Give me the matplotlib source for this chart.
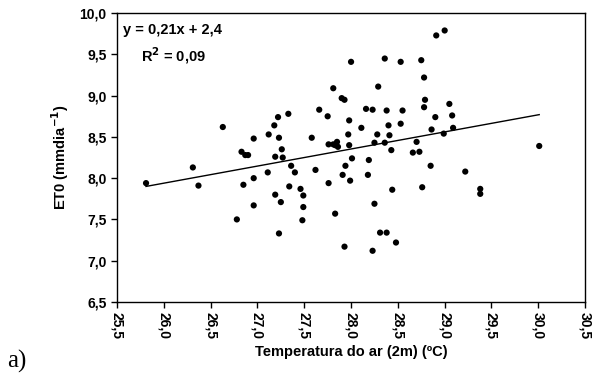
import numpy as np
import matplotlib
matplotlib.use("Agg")
import matplotlib.pyplot as plt
from matplotlib.ticker import FuncFormatter

# temperatura do ar (oC) e ET0 (mm/dia)
temp = [25.81, 26.31, 26.37, 26.63, 26.78, 26.83, 26.87, 26.90, 26.85, 26.96,
        26.96, 26.96, 27.11, 27.12, 27.18, 27.22, 27.19, 27.23, 27.26, 27.27,
        27.19, 27.25, 27.23, 27.33, 27.36, 27.40, 27.34, 27.46, 27.49, 27.49,
        27.48, 27.58, 27.62, 27.66, 27.75, 27.81, 27.76, 27.81, 27.83, 27.85,
        27.86, 27.76, 27.83, 27.90, 27.93, 27.93, 27.94, 27.91, 28.00, 27.98,
        27.97, 27.98, 28.01, 27.99, 28.11, 28.16, 28.23, 28.29, 28.36, 28.38,
        28.40, 28.28, 28.41, 28.25, 28.36, 28.43, 28.19, 28.18, 28.44, 28.25,
        28.31, 28.38, 28.23, 28.48, 28.53, 28.55, 28.53, 28.70, 28.66, 28.73,
        28.85, 28.76, 28.75, 28.78, 28.79, 28.78, 28.86, 28.90, 28.99, 28.91,
        29.00, 29.05, 29.08, 29.09, 29.22, 29.38, 29.38, 30.01]
et0 = [7.94, 8.13, 7.91, 8.62, 7.50, 8.32, 8.28, 8.28, 7.92, 8.48,
       8.00, 7.67, 8.07, 8.53, 8.64, 8.74, 8.26, 8.49, 8.35, 8.25,
       7.80, 7.71, 7.33, 8.78, 8.15, 8.07, 7.90, 7.87, 7.79, 7.65,
       7.49, 8.49, 8.10, 8.83, 8.75, 9.09, 8.41, 8.41, 8.40, 8.44,
       8.38, 7.94, 7.57, 8.97, 8.95, 7.17, 8.15, 8.04, 9.41, 8.70,
       8.53, 8.40, 8.24, 7.97, 8.61, 8.84, 8.83, 9.11, 9.45, 8.82,
       8.64, 8.53, 8.52, 8.43, 8.43, 8.34, 8.22, 8.04, 7.86, 7.69,
       7.34, 7.34, 7.12, 7.22, 9.41, 8.82, 8.66, 8.44, 8.31, 8.32,
       8.15, 7.89, 9.43, 9.22, 8.95, 8.86, 8.59, 8.74, 8.54, 9.73,
       9.79, 8.90, 8.76, 8.61, 8.08, 7.87, 7.81, 8.39]

trend_x = [25.81, 30.01]
trend_y = [7.90, 8.77]

xticks = np.arange(25.5, 30.51, 0.5)
yticks = np.arange(6.5, 10.01, 0.5)

plt.rcParams['font.family'] = ['Liberation Sans', 'DejaVu Sans']
plt.rcParams['font.weight'] = 'bold'

fig = plt.figure(figsize=(5.94, 3.76), dpi=100)
ax = fig.add_axes([0.197, 0.197, 0.788, 0.768])

ax.scatter(temp, et0, s=20, c='black', edgecolors='none', zorder=3)
ax.plot(trend_x, trend_y, color='black', lw=1.0)

ax.set_xlim(25.5, 30.5)
ax.set_ylim(6.5, 10.0)
ax.set_xticks(xticks)
ax.set_yticks(yticks)
comma = FuncFormatter(lambda v, p: ("%.1f" % v).replace(".", ","))
ax.xaxis.set_major_formatter(comma)
ax.yaxis.set_major_formatter(comma)
ax.tick_params(direction='out', length=4, width=1, labelsize=10)
for lab in ax.get_xticklabels():
    lab.set_rotation(-90)
    lab.set_fontweight('bold')
for lab in ax.get_yticklabels():
    lab.set_fontweight('bold')
for sp in ax.spines.values():
    sp.set_linewidth(1.0)

ax.set_xlabel("Temperatura do ar (2m) (ºC)", fontsize=10.5, fontweight='bold', labelpad=4)
ax.set_ylabel("ET0 (mmdia$^{\\mathbf{-1}}$)", fontsize=10.5, fontweight='bold', labelpad=6)

ax.text(0.012, 0.965, "y = 0,21x + 2,4", transform=ax.transAxes, fontsize=10.5,
        fontweight='bold', va='top', ha='left')
ax.text(0.052, 0.89, "R$^{\\mathbf{2}}$ = 0,09", transform=ax.transAxes, fontsize=10.5,
        fontweight='bold', va='top', ha='left')

fig.text(0.012, 0.022, "a)", fontsize=18, family='Liberation Serif', fontweight='normal')

fig.savefig("out.png", dpi=100)
